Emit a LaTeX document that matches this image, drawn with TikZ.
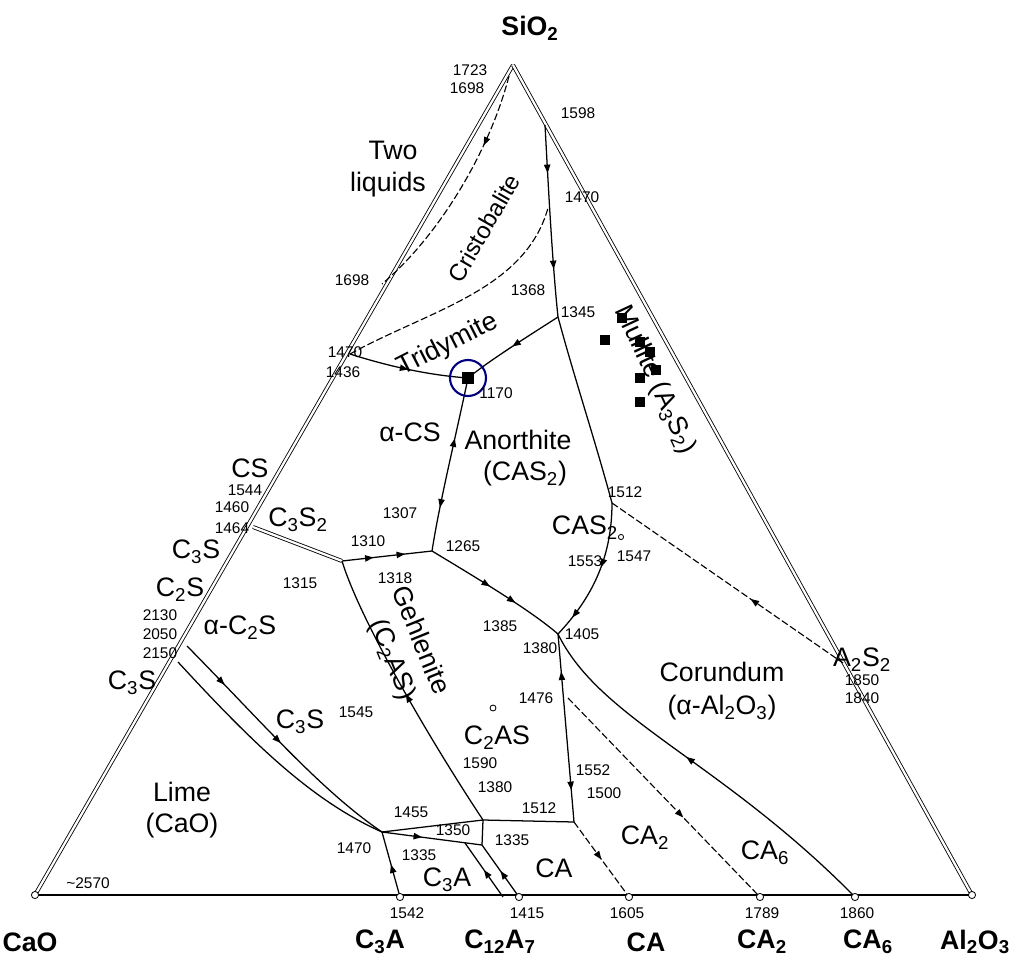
\documentclass[tikz,border=0pt]{standalone}
\usepackage{fontspec}
\setmainfont{Liberation Sans}
\usetikzlibrary{decorations.markings,arrows.meta}
\newcommand\sbs[1]{\textsubscript{#1}}
\begin{document}
\begin{tikzpicture}[x=0.025cm,y=-0.025cm,line width=0.9pt,
  num/.style={font=\fontsize{11}{11}\selectfont,inner sep=1pt},
  lab/.style={font=\fontsize{19}{19}\selectfont,inner sep=1pt},
  cmp/.style={font=\fontsize{19}{19}\selectfont\bfseries,inner sep=1pt},
  bnd/.style={line width=0.9pt},
  dsh/.style={dashed,dash pattern=on 5pt off 2pt,line width=0.8pt},
  edge2/.style={double distance=1.6pt,line width=0.6pt},
  ar/.style={postaction={decorate,decoration={markings,mark=at position #1 with {\arrow{Triangle[length=6pt,width=4.5pt]}}}}},
  ra/.style={postaction={decorate,decoration={markings,mark=at position #1 with {\arrowreversed{Triangle[length=6pt,width=4.5pt]}}}}},
  pt/.style={circle,draw,fill=white,inner sep=1.8pt,line width=0.6pt},
  sq/.style={fill=black,minimum size=9pt,inner sep=0pt}]
\useasboundingbox (0,0) rectangle (1024,971);
% vertices
\coordinate (S) at (513,65);
\coordinate (C) at (35,895);
\coordinate (Al) at (972,895);
\draw[edge2] (S) -- (C);
\draw[edge2] (S) -- (Al);
\draw[line width=1.4pt] (C) -- (Al);
% invariant points
\coordinate (p1698) at (382,284);
\coordinate (p1470l) at (350,354);
\coordinate (p1470c) at (548,208);
\coordinate (p1598) at (545,125);
\coordinate (p1345) at (558,317);
\coordinate (e1170) at (468,378);
\coordinate (p1265) at (432,551);
\coordinate (p1460) at (253,527);
\coordinate (p1310) at (342,561);
\coordinate (p1512) at (612,503);
\coordinate (p1405) at (558,634);
\coordinate (pA2S2) at (843,663);
\coordinate (p1512b) at (574,822);
\coordinate (p1335) at (483,820);
\coordinate (p1335b) at (482,845);
\coordinate (p1455) at (382,832);
\coordinate (p1476) at (568,698);
\coordinate (bC3A) at (400,897);
\coordinate (bC12) at (519,897);
\coordinate (bCA) at (629,897);
\coordinate (bCA2) at (760,897);
\coordinate (bCA6) at (855,897);
% boundary curves
\draw[dsh,ar=0.3] (509,76) .. controls (490,150) and (440,235) .. (p1698);
\draw[dsh] (p1470l) .. controls (430,310) and (525,290) .. (p1470c);
\draw[bnd,ar=0.25,ar=0.75] (p1598) .. controls (548,180) and (552,260) .. (p1345);
\draw[bnd,ar=0.5] (p1345) .. controls (530,335) and (490,360) .. (e1170);
\draw[bnd,ar=0.5] (p1470l) .. controls (400,370) and (440,376) .. (e1170);
\draw[bnd,ra=0.35,ar=0.75] (e1170) .. controls (455,440) and (440,500) .. (p1265);
\draw[bnd,ra=0.3,ra=0.65] (p1265) -- (p1310);
\draw[edge2] (p1460) -- (p1310);
\draw[bnd,ar=0.45,ar=0.65] (p1265) .. controls (480,580) and (530,610) .. (p1405);
\draw[bnd] (p1345) .. controls (575,380) and (595,440) .. (p1512);
\draw[bnd,ra=0.15,ra=0.55] (p1405) .. controls (590,600) and (612,560) .. (p1512);
\draw[dsh,ra=0.6] (p1512) -- (pA2S2);
\draw[bnd,ra=0.5] (p1310) .. controls (360,620) and (430,740) .. (p1335);
\draw[bnd,ra=0.2,ar=0.83] (p1405) -- (p1512b);
\draw[bnd] (p1335) -- (p1512b);
\draw[bnd,ra=0.45] (p1405) .. controls (600,720) and (720,760) .. (bCA6);
\draw[dsh,ar=0.6] (p1476) -- (bCA2);
\draw[dsh,ar=0.5] (p1512b) -- (bCA);
\draw[bnd] (p1335) -- (p1335b);
\draw[bnd,ra=0.5] (p1335b) -- (bC12);
\draw[bnd,ra=0.5] (465,843) -- (503,897);
\draw[bnd,ar=0.4] (p1455) -- (p1335b);
\draw[bnd] (p1455) -- (p1335);
\draw[bnd,ra=0.5] (p1455) -- (bC3A);
\draw[bnd,ar=0.2,ar=0.5] (187,646) .. controls (260,720) and (320,790) .. (p1455);
\draw[bnd] (178,662) .. controls (250,740) and (310,800) .. (p1455);
% points
\foreach \p in {C,Al,bC3A,bC12,bCA,bCA2,bCA6} \node[pt] at (\p) {};
\node[pt,inner sep=1.5pt] at (493,708) {};
% squares
\node[sq] (sq0) at (468,378) {};
\draw[blue!50!black,line width=1.5pt] (e1170) circle (18);
\foreach \x/\y in {622/318,605/340,640/342,650/352,656/370,640/378,640/402} \node[sq,minimum size=7pt] at (\x,\y) {};
% component labels
\node[cmp] at (530,28) {SiO\sbs{2}};
\node[cmp] at (30,942) {CaO};
\node[cmp] at (380,942) {C\sbs{3}A};
\node[cmp] at (500,942) {C\sbs{12}A\sbs{7}};
\node[cmp] at (646,942) {CA};
\node[cmp] at (762,942) {CA\sbs{2}};
\node[cmp] at (868,942) {CA\sbs{6}};
\node[cmp] at (975,942) {Al\sbs{2}O\sbs{3}};
% region labels
\node[lab] at (393,150) {Two};
\node[lab] at (388,185) {liquids};
\node[lab,rotate=60,font=\fontsize{17}{17}\selectfont] at (484,228) {Cristobalite};
\node[lab,rotate=27] at (448,345) {Tridymite};
\node[lab,rotate=-65] at (655,380) {Mullite (A\sbs{3}S\sbs{2})};
\node[lab] at (410,432) {α-CS};
\node[lab] at (250,468) {CS};
\node[lab] at (518,440) {Anorthite};
\node[lab] at (525,474) {(CAS\sbs{2})};
\node[lab] at (298,520) {C\sbs{3}S\sbs{2}};
\node[lab] at (585,528) {CAS\sbs{2}};
\node[pt,inner sep=1.3pt] at (621,537) {};
\node[lab] at (196,552) {C\sbs{3}S};
\node[lab] at (180,590) {C\sbs{2}S};
\node[lab] at (240,628) {α-C\sbs{2}S};
\node[lab,rotate=-68] at (422,640) {Gehlenite};
\node[lab,rotate=-68] at (392,660) {(C\sbs{2}AS)};
\node[lab] at (132,683) {C\sbs{3}S};
\node[lab] at (862,660) {A\sbs{2}S\sbs{2}};
\node[lab] at (722,672) {Corundum};
\node[lab] at (722,708) {(α-Al\sbs{2}O\sbs{3})};
\node[lab] at (497,738) {C\sbs{2}AS};
\node[lab] at (300,722) {C\sbs{3}S};
\node[lab] at (182,792) {Lime};
\node[lab] at (182,826) {(CaO)};
\node[lab] at (447,880) {C\sbs{3}A};
\node[lab] at (554,868) {CA};
\node[lab] at (645,838) {CA\sbs{2}};
\node[lab] at (765,853) {CA\sbs{6}};
% temperatures
\foreach \x/\y/\t in {470/70/1723, 467/88/1698, 578/113/1598, 582/197/1470, 352/280/1698, 528/290/1368, 578/312/1345, 345/352/1470, 343/372/1436, 496/393/1170, 245/490/1544, 625/492/1512, 400/513/1307, 232/507/1460, 232/528/1464, 368/541/1310, 463/546/1265, 585/561/1553, 634/556/1547, 300/583/1315, 395/578/1318, 160/615/2130, 160/634/2050, 160/653/2150, 500/626/1385, 540/648/1380, 582/634/1405, 862/680/1850, 862/698/1840, 356/712/1545, 536/698/1476, 480/763/1590, 495/787/1380, 593/770/1552, 604/793/1500, 539/808/1512, 411/812/1455, 453/830/1350, 512/840/1335, 354/848/1470, 419/855/1335, 407/913/1542, 527/913/1415, 627/913/1605, 762/913/1789, 857/913/1860}
  \node[num] at (\x,\y) {\t};
\node[num] at (88,883) {\textasciitilde2570};
\end{tikzpicture}
\end{document}
